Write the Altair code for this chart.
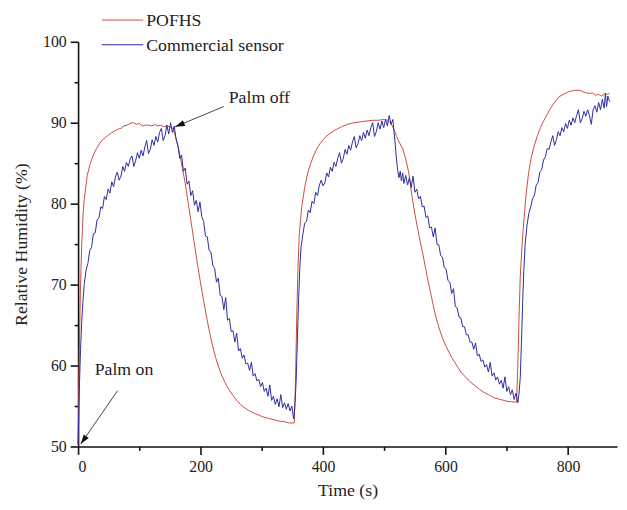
import altair as alt
import pandas as pd

# ---------------- data ----------------
red_time = [0, 2, 4, 6, 8, 10, 15, 20, 25, 30, 35, 40, 45, 50, 55, 60, 65, 70, 75, 80,
            85, 90, 95, 100, 105, 110, 115, 120, 125, 130, 135, 140, 145, 150, 155, 160,
            165, 170, 175, 180, 185, 190, 195, 200, 205, 210, 215, 220, 225, 230, 235,
            240, 245, 250, 255, 260, 265, 270, 275, 280, 285, 290, 295, 300, 305, 310,
            315, 320, 325, 330, 335, 340, 345, 350, 353, 355, 357, 359, 361, 365, 370,
            375, 380, 385, 390, 395, 400, 405, 410, 420, 430, 440, 450, 460, 470, 480,
            490, 500, 505, 510, 515, 520, 525, 530, 535, 540, 545, 550, 555, 560, 565,
            570, 575, 580, 585, 590, 595, 600, 610, 620, 625, 630, 640, 650, 660, 670,
            680, 690, 700, 710, 716, 718, 720, 722, 725, 728, 732, 736, 740, 745, 750,
            755, 760, 765, 770, 775, 780, 785, 790, 795, 800, 805, 810, 815, 820, 825,
            830, 835, 840, 845, 850, 855, 860, 865, 868]
red_rh = [50.3, 62, 70, 75, 78.5, 80.5, 83.5, 85.0, 86.0, 86.8, 87.4, 87.9, 88.2, 88.5,
          88.8, 89.0, 89.2, 89.3, 89.6, 89.7, 89.9, 90.0, 89.8, 89.9, 89.6, 89.7, 89.7,
          89.6, 89.8, 89.6, 89.7, 89.5, 89.6, 89.5, 89.3, 88.0, 86.5, 84.5, 82.5, 80.0,
          77.5, 75.0, 72.5, 70.2, 68.0, 65.9, 64.0, 62.3, 60.9, 59.7, 58.7, 57.9, 57.2,
          56.6, 56.1, 55.6, 55.2, 54.9, 54.6, 54.4, 54.2, 54.0, 53.9, 53.7, 53.6, 53.5,
          53.4, 53.3, 53.2, 53.1, 53.1, 53.0, 52.9, 52.9, 52.9, 58, 66, 72, 76, 79.5,
          82.0, 83.8, 85.0, 86.0, 86.8, 87.4, 87.9, 88.3, 88.6, 89.1, 89.5, 89.8, 90.0,
          90.1, 90.2, 90.3, 90.3, 90.4, 90.3, 90.0, 89.3, 88.3, 87.5, 86.8, 85.5, 83.8,
          81.0, 78.7, 76.7, 74.8, 73.0, 71.0, 69.2, 67.4, 65.8, 64.5, 63.4, 62.5, 61.0,
          59.8, 59.2, 58.8, 58.0, 57.4, 56.8, 56.4, 56.0, 55.8, 55.6, 55.5, 55.5, 60, 66,
          71, 75, 78, 81.5, 84, 85.7, 87.2, 88.4, 89.4, 90.2, 90.9, 91.6, 92.2, 92.7,
          93.2, 93.4, 93.6, 93.8, 93.9, 94.0, 94.0, 94.0, 93.8, 93.7, 93.6, 93.7, 93.4,
          93.5, 93.3, 93.6, 93.5, 93.7]

# commercial sensor: (time s, RH %) pairs
blue_points = [
    (0, 50.3), (2, 57), (4, 62), (6, 65.5), (8, 68), (10, 70), (13, 71.8), (16, 72.6),
    (19, 74.2), (22, 74.6), (25, 76.3), (28, 76.4), (31, 78.0), (34, 78.2), (37, 79.6),
    (40, 79.4), (43, 80.9), (46, 80.5), (49, 81.8), (52, 81.3), (55, 82.7), (58, 82.1),
    (61, 83.3), (64, 83.9), (67, 82.9), (70, 83.4), (73, 84.6), (76, 84.0), (79, 85.1),
    (82, 84.6), (85, 85.5), (88, 85.9), (91, 84.6), (94, 85.3), (97, 86.3), (100, 85.6),
    (103, 86.6), (106, 85.9), (109, 87.0), (112, 87.8), (115, 86.2), (118, 86.7),
    (121, 87.9), (124, 87.2), (127, 88.3), (130, 87.6), (133, 88.8), (136, 89.3),
    (139, 87.8), (142, 88.4), (145, 89.7), (148, 88.6), (151, 90.0), (154, 88.8),
    (157, 89.6), (160, 88.0), (163, 87.2), (166, 85.6), (169, 86.0), (172, 84.0),
    (175, 84.4), (178, 82.4), (181, 82.8), (184, 81.0), (187, 81.6), (190, 79.8),
    (193, 80.4), (196, 79.0), (199, 80.2), (202, 78.4), (205, 77.8), (208, 76.0),
    (211, 75.9), (214, 74.2), (217, 74.0), (220, 72.4), (223, 72.0), (226, 70.3),
    (229, 70.8), (232, 68.7), (235, 68.5), (238, 66.9), (241, 68.4), (244, 65.6),
    (247, 65.8), (250, 64.2), (253, 64.3), (256, 62.9), (259, 64.0), (262, 61.8),
    (265, 62.1), (268, 60.9), (271, 61.3), (274, 60.2), (277, 60.3), (280, 59.4),
    (283, 60.4), (286, 58.7), (289, 59.0), (292, 58.1), (295, 58.3), (298, 57.4),
    (301, 57.9), (304, 56.8), (307, 57.2), (310, 56.2), (313, 57.6), (316, 55.7),
    (319, 56.2), (322, 55.2), (325, 55.9), (328, 54.9), (331, 56.4), (334, 54.8),
    (337, 55.4), (340, 54.6), (343, 55.3), (346, 54.4), (349, 55.0), (352, 53.4),
    (354, 55.0), (356, 58), (358, 63), (360, 68), (362, 72), (364, 74.6), (367, 76.2),
    (370, 77.6), (373, 77.8), (376, 79.2), (379, 78.9), (382, 80.3), (385, 80.0),
    (388, 81.4), (391, 81.0), (394, 82.3), (397, 82.9), (400, 82.2), (403, 82.6),
    (406, 83.8), (409, 83.3), (412, 84.5), (415, 84.0), (418, 85.1), (421, 84.6),
    (424, 85.6), (427, 86.3), (430, 85.0), (433, 85.6), (436, 86.7), (439, 86.1),
    (442, 87.2), (445, 86.6), (448, 87.6), (451, 88.3), (454, 86.9), (457, 87.4),
    (460, 88.4), (463, 87.8), (466, 88.8), (469, 88.1), (472, 89.1), (475, 88.4),
    (478, 89.4), (481, 90.0), (484, 88.3), (487, 88.9), (490, 90.0), (493, 89.2),
    (496, 90.2), (499, 89.4), (502, 90.4), (505, 89.6), (508, 90.9), (511, 89.8),
    (514, 90.4), (516, 88.8), (518, 87.2), (520, 85.4), (522, 84.0), (524, 83.2),
    (526, 84.0), (528, 82.8), (530, 83.8), (532, 82.5), (535, 83.5), (538, 82.3),
    (541, 83.2), (544, 82.0), (547, 83.4), (550, 81.4), (553, 81.8), (556, 80.6),
    (559, 80.9), (562, 79.6), (565, 79.7), (568, 78.3), (571, 78.5), (574, 77.0),
    (577, 77.1), (580, 75.9), (583, 77.0), (586, 75.0), (589, 74.9), (592, 73.6),
    (595, 73.4), (598, 72.1), (601, 71.9), (604, 70.5), (607, 70.3), (610, 68.9),
    (613, 69.5), (616, 67.3), (619, 67.1), (622, 66.0), (625, 65.9), (628, 64.8),
    (631, 64.8), (634, 63.8), (637, 63.8), (640, 62.9), (643, 62.9), (646, 62.0),
    (649, 62.8), (652, 61.2), (655, 61.4), (658, 60.5), (661, 60.7), (664, 59.8),
    (667, 60.1), (670, 59.2), (673, 60.4), (676, 58.7), (679, 59.1), (682, 58.2),
    (685, 58.6), (688, 57.7), (691, 58.2), (694, 57.2), (697, 58.6), (700, 56.8),
    (703, 57.4), (706, 56.4), (709, 57.0), (712, 55.8), (715, 56.6), (718, 55.4),
    (720, 56.6), (722, 58.5), (724, 63), (726, 68), (728, 72), (730, 75), (733, 77.3),
    (736, 78.8), (739, 79.6), (742, 80.6), (745, 81.0), (748, 82.3), (751, 82.6),
    (754, 83.9), (757, 84.2), (760, 85.4), (763, 85.8), (766, 86.8), (769, 86.7),
    (772, 87.6), (775, 88.4), (778, 87.2), (781, 87.9), (784, 88.9), (787, 88.4),
    (790, 89.4), (793, 88.9), (796, 89.9), (799, 89.3), (802, 90.3), (805, 89.7),
    (808, 90.6), (811, 90.0), (814, 90.9), (817, 91.6), (820, 90.0), (823, 90.5),
    (826, 91.4), (829, 90.8), (832, 91.6), (835, 90.9), (838, 89.8), (841, 91.6),
    (844, 92.1), (847, 91.3), (850, 92.5), (853, 91.6), (856, 92.9), (859, 91.8),
    (861, 93.6), (863, 92.0), (865, 93.3), (868, 92.6),
]
blue_time = [p[0] for p in blue_points]
blue_rh = [p[1] for p in blue_points]

series_names = ["POFHS", "Commercial sensor"]
series_colors = ["#c84c40", "#2b2b9e"]

note_texts = ["Palm off", "Palm on"]
note_text_t = [296, 75]
note_text_rh = [93.0, 59.5]
arrow_t0 = [238, 64.5]
arrow_rh0 = [92.0, 56.9]
arrow_t1 = [158.5, 4.3]
arrow_rh1 = [89.5, 50.3]
arrow_angle = [248, 215]

x_ticks = [0, 100, 200, 300, 400, 500, 600, 700, 800]
y_ticks = [50, 55, 60, 65, 70, 75, 80, 85, 90, 95, 100]

# ---------------- chart ----------------
FONT = "Liberation Serif, Times New Roman, DejaVu Serif, serif"

red_df = pd.DataFrame({"t": red_time, "rh": red_rh})
blue_df = pd.DataFrame({"t": blue_time, "rh": blue_rh})
notes_df = pd.DataFrame({"label": note_texts, "t": note_text_t, "rh": note_text_rh})
arrows_df = pd.DataFrame({"t0": arrow_t0, "rh0": arrow_rh0, "t1": arrow_t1,
                          "rh1": arrow_rh1, "angle": arrow_angle})

x_scale = alt.Scale(domain=[0, 880], nice=False, zero=False)
y_scale = alt.Scale(domain=[50, 100], nice=False, zero=False)

x_axis = alt.Axis(
    title="Time (s)", values=x_ticks,
    labelExpr="datum.value % 200 === 0 ? datum.label : ''",
    tickSize={"condition": {"test": "datum.value % 200 !== 0", "value": 4}, "value": 8},
    labelPadding=4, titlePadding=8,
)
y_axis = alt.Axis(
    title="Relative Humidity (%)", values=y_ticks,
    labelExpr="datum.value % 10 === 0 ? datum.label : ''",
    tickSize={"condition": {"test": "datum.value % 10 !== 0", "value": 4}, "value": 8},
    labelPadding=4, titlePadding=12,
)

red_line = alt.Chart(red_df).mark_line(color=series_colors[0], strokeWidth=1).encode(
    x=alt.X("t:Q", scale=x_scale, axis=x_axis),
    y=alt.Y("rh:Q", scale=y_scale, axis=y_axis),
)
blue_line = alt.Chart(blue_df).mark_line(color=series_colors[1], strokeWidth=1).encode(
    x=alt.X("t:Q", scale=x_scale),
    y=alt.Y("rh:Q", scale=y_scale),
)

arrow_lines = alt.Chart(arrows_df).mark_rule(color="#444444", strokeWidth=1).encode(
    x=alt.X("t0:Q", scale=x_scale), y=alt.Y("rh0:Q", scale=y_scale),
    x2="t1:Q", y2="rh1:Q",
)
arrow_heads = alt.Chart(arrows_df).mark_point(
    shape="M0,0L-0.32,1L0.32,1Z", filled=True, color="#111111", size=380, opacity=1,
).encode(
    x=alt.X("t1:Q", scale=x_scale), y=alt.Y("rh1:Q", scale=y_scale),
    angle=alt.Angle("angle:Q", scale=None),
)
note_labels = alt.Chart(notes_df).mark_text(
    font=FONT, fontSize=18, color="#222222", align="center", baseline="middle",
).encode(
    x=alt.X("t:Q", scale=x_scale), y=alt.Y("rh:Q", scale=y_scale), text="label:N",
)

legend_layers = []
for i, (name, col) in enumerate(zip(series_names, series_colors)):
    yy = -22 + 25 * i
    legend_layers.append(
        alt.Chart(red_df.head(1)).mark_rule(color=col, strokeWidth=1).encode(
            x=alt.value(24), x2=alt.value(66), y=alt.value(yy)
        )
    )
    legend_layers.append(
        alt.Chart(red_df.head(1)).mark_text(
            text=name, font=FONT, fontSize=18, color="#222222",
            align="left", baseline="middle",
        ).encode(x=alt.value(69), y=alt.value(yy + 1))
    )

chart = alt.layer(
    red_line, blue_line, arrow_lines, arrow_heads, note_labels, *legend_layers
).properties(
    width=546, height=410,
    padding={"left": 71, "top": 31, "right": 2, "bottom": 52},
    autosize=alt.AutoSizeParams(type="none"),
    background="white",
).configure_view(stroke=None).configure_axis(
    grid=False, domainColor="#111111", domainWidth=1.6, tickColor="#111111",
    tickWidth=1.6, labelFont=FONT, labelFontSize=16, labelColor="#222222",
    titleFont=FONT, titleFontSize=18, titleFontWeight="normal", titleColor="#222222",
)

chart.save("out.html", embed_options={"renderer": "svg", "actions": False})
